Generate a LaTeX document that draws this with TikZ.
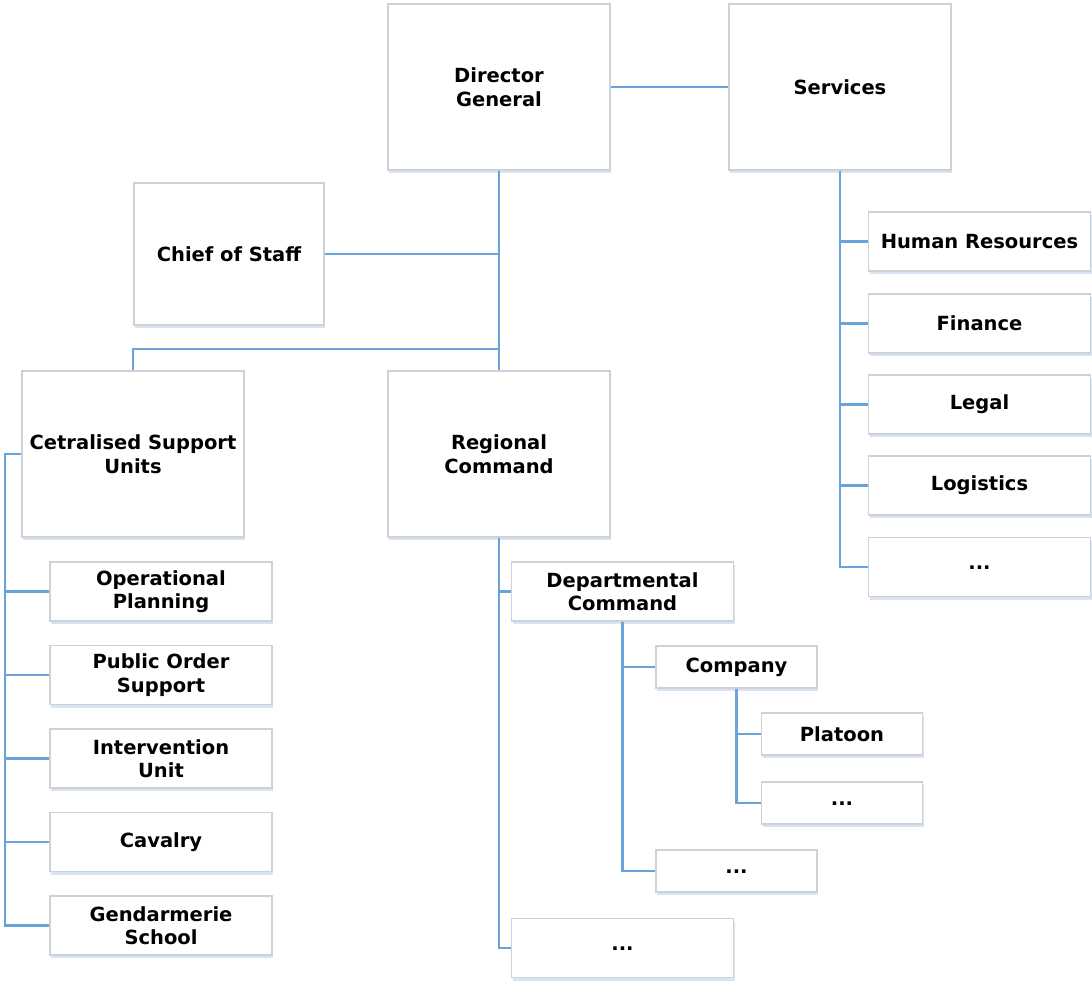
\documentclass[tikz,border=0pt]{standalone}
\usepackage{fontspec}
\setmainfont{DejaVu Sans}
\usepackage{tikz}
\usetikzlibrary{shadows}

\definecolor{linkblue}{RGB}{104,163,220}
\definecolor{boxgray}{RGB}{206,209,213}
\definecolor{shadowblue}{RGB}{190,210,235}

\newcommand{\more}{\raisebox{-4pt}{...}}

\begin{document}
\begin{tikzpicture}[x=1pt,y=-1pt,
    unit/.style={draw=boxgray,line width=1.2pt,fill=white,align=center,
      font=\fontsize{19.5}{23.5}\selectfont\bfseries,inner sep=0pt,
      drop shadow={fill=shadowblue,opacity=0.6,shadow xshift=1pt,shadow yshift=-3pt}},
    big/.style={unit,minimum width=222pt,minimum height=166pt},
    small/.style={unit,minimum width=222pt,minimum height=59pt},
    tiny/.style={unit,minimum width=161pt,minimum height=42pt},
    link/.style={draw=linkblue,line width=2.2pt}]
    \useasboundingbox (0,0) rectangle (1092,981);

    \node[big]  (dg)  at (499,87)  {Director\\General};
    \node[big]  (srv) at (840,87)  {Services};
    \node[unit,minimum width=190pt,minimum height=142pt] (cos) at (229,254) {Chief of Staff};
    \node[big]  (csu) at (133,454) {Cetralised Support\\Units};
    \node[big]  (rc)  at (499,454) {Regional\\Command};

    % centralised support units
    \node[small] (op)  at (161,591.5) {Operational\\Planning};
    \node[small] (pos) at (161,675)   {Public Order\\Support};
    \node[small] (iu)  at (161,758.5) {Intervention\\Unit};
    \node[small] (cav) at (161,842)   {Cavalry};
    \node[small] (gs)  at (161,925.5) {Gendarmerie\\School};

    % services
    \node[small] (hr)   at (979.5,241.5) {Human Resources};
    \node[small] (fin)  at (979.5,323.5) {Finance};
    \node[small] (leg)  at (979.5,404.5) {Legal};
    \node[small] (log)  at (979.5,485.5) {Logistics};
    \node[small] (srvx) at (979.5,567)   {\more};

    % regional command
    \node[small] (dc)    at (622.5,591.5) {Departmental\\Command};
    \node[small] (rcx)   at (622.5,948)   {\more};
    \node[tiny]  (comp)  at (736.5,667)   {Company};
    \node[tiny]  (dcx)   at (736.5,871)   {\more};
    \node[tiny]  (plat)  at (842,734)     {Platoon};
    \node[tiny]  (compx) at (842,803)     {\more};

    \coordinate (split) at (499,349);
    \coordinate (csubend) at (5,454);

    \path[link]
    (dg) -- (srv)
    (dg) -- (rc)
    (cos) -- (dg.south |- cos.east)
    (csu.north) |- (split)
    ;
    \foreach \c in {hr,fin,leg,log,srvx}
      \path[link] (srv.south) |- (\c.west);
    \foreach \c in {op,pos,iu,cav,gs}
      \path[link] (csu.west) -- (csubend) |- (\c.west);
    \foreach \c in {dc,rcx}
      \path[link] (rc.south) |- (\c.west);
    \foreach \c in {comp,dcx}
      \path[link] (dc.south) |- (\c.west);
    \foreach \c in {plat,compx}
      \path[link] (comp.south) |- (\c.west);
\end{tikzpicture}
\end{document}
